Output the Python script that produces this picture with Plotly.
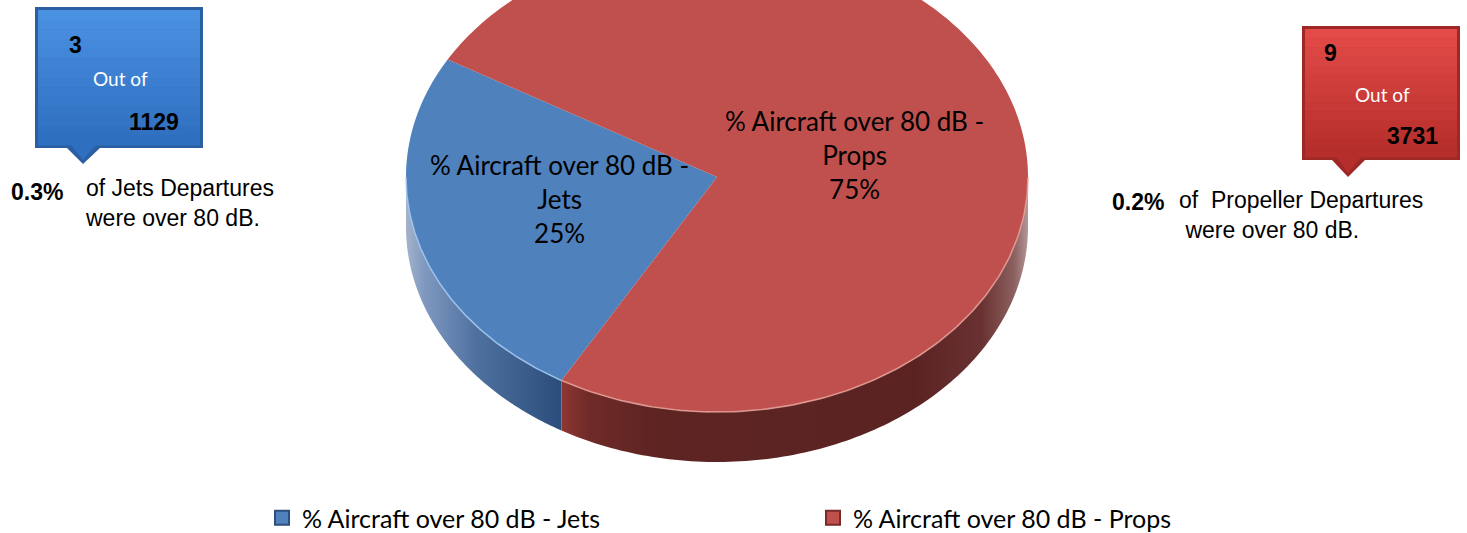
import numpy as np
import plotly.graph_objects as go

# ---------------- data ----------------
categories = ["% Aircraft over 80 dB - Jets", "% Aircraft over 80 dB - Props"]
over_80db = [3, 9]              # departures over 80 dB
departures = [1129, 3731]       # total departures
callout_names = ["Jets", " Propeller"]

# ---------------- style / geometry ----------------
W, H = 1467, 533
top_colors = ["#4F81BD", "#C0504D"]
side_scales = [
    [[0, "#a3b4cc"], [0.12, "#7f98bf"], [0.45, "#4f71a0"], [1, "#2a4d7b"]],
    [[0, "#8e3632"], [0.06, "#6f2a27"], [0.2, "#5d2422"], [0.75, "#5a2322"],
     [0.9, "#693131"], [0.97, "#8c6060"], [1, "#b39797"]],
]
edge_colors = ["#a9cbf2", "#e8a29c"]
legend_edge = ["#2c4f7e", "#7a2b28"]
CX, CY, RX, RY, DEPTH = 717, 177, 311, 235, 50
START = 150          # angle (deg, counter-clockwise) where first slice begins
LABEL_RX, LABEL_RY, LABEL_DX = 0.49, 0.36, -10
LABEL_FONT = "Lato, 'Open Sans', sans-serif"
ARIAL = "Liberation Sans, Arial, sans-serif"

total = sum(over_80db)
fracs = [v / total for v in over_80db]


def ell(a_deg, dy=0.0):
    a = np.radians(a_deg)
    return CX + RX * np.cos(a), CY - RY * np.sin(a) + dy


fig = go.Figure()

# slice angle ranges
ranges = []
a0 = START
for f in fracs:
    a1 = a0 + 360 * f
    ranges.append((a0, a1))
    a0 = a1

# side walls (front half: 180..360 deg)
for i, (s, e) in enumerate(ranges):
    for k in range(-1, 3):
        lo, hi = max(s, 180 + 360 * k), min(e, 360 + 360 * k)
        if hi <= lo:
            continue
        ang = np.linspace(lo, hi, 120)
        xt, yt = ell(ang)
        xb, yb = ell(ang[::-1], DEPTH)
        fig.add_trace(go.Scatter(
            x=np.concatenate([xt, xb]), y=np.concatenate([yt, yb]),
            mode="none", fill="toself",
            fillgradient=dict(type="horizontal", colorscale=side_scales[i]),
            hoverinfo="skip", showlegend=False))

# top faces
for i, (s, e) in enumerate(ranges):
    ang = np.linspace(s, e, 300)
    xa, ya = ell(ang)
    fig.add_trace(go.Scatter(
        x=np.concatenate([[CX], xa, [CX]]), y=np.concatenate([[CY], ya, [CY]]),
        mode="none", fill="toself", fillcolor=top_colors[i],
        hoverinfo="skip", showlegend=False))

# front edge highlights
for i, (s, e) in enumerate(ranges):
    for k in range(-1, 3):
        lo, hi = max(s, 180 + 360 * k), min(e, 360 + 360 * k)
        if hi <= lo:
            continue
        ang = np.linspace(lo, hi, 120)
        xt, yt = ell(ang)
        fig.add_trace(go.Scatter(
            x=xt, y=yt, mode="lines", line=dict(color=edge_colors[i], width=1.6),
            opacity=0.8, hoverinfo="skip", showlegend=False))

# slice labels
for i, (s, e) in enumerate(ranges):
    mid = np.radians((s + e) / 2)
    lx = CX + LABEL_DX + LABEL_RX * RX * np.cos(mid)
    ly = CY - LABEL_RY * RY * np.sin(mid)
    head, tail = categories[i].rsplit(" - ", 1)
    pct = round(100 * fracs[i])
    fig.add_annotation(
        x=lx, y=ly, xref="x", yref="y", showarrow=False,
        text=f"{head} -<br>{tail}<br>{pct}%",
        font=dict(family=LABEL_FONT, size=26, color="#000000"), align="center")

# legend entries
for i, name in enumerate(categories):
    fig.add_trace(go.Scatter(
        x=[None], y=[None], mode="markers", name=name,
        marker=dict(symbol="square", size=14, color=top_colors[i],
                    line=dict(color=legend_edge[i], width=2))))

# ---------------- callout boxes ----------------
boxes = [
    dict(x0=35, y0=7, x1=203, y1=148, px=(67, 83, 100), tip=164,
         edge="#2a5fa3", grad=("#4b91e2", "#2f6fc0")),
    dict(x0=1302, y0=26, x1=1460, y1=160, px=(1332, 1348, 1365), tip=177,
         edge="#9e2826", grad=("#e34b48", "#b52e2b")),
]


def hex2rgb(h):
    h = h.lstrip("#")
    return tuple(int(h[j:j + 2], 16) for j in (0, 2, 4))


shapes = []
for b in boxes:
    pl, pm, pr = b["px"]
    path = (f"M{b['x0']},{b['y0']} L{b['x1']},{b['y0']} L{b['x1']},{b['y1']} "
            f"L{pr},{b['y1']} L{pm},{b['tip']} L{pl},{b['y1']} L{b['x0']},{b['y1']} Z")
    shapes.append(dict(type="path", path=path, xref="x", yref="y",
                       fillcolor=b["edge"], line=dict(width=0), layer="above"))
    c0, c1 = hex2rgb(b["grad"][0]), hex2rgb(b["grad"][1])
    n = 14
    ins = 3
    top, bot = b["y0"] + ins, b["y1"] - ins
    for j in range(n):
        t = j / (n - 1)
        col = "rgb(%d,%d,%d)" % tuple(int(c0[q] + (c1[q] - c0[q]) * t) for q in range(3))
        ya = top + (bot - top) * j / n
        yb = top + (bot - top) * (j + 1) / n + 0.5
        shapes.append(dict(type="rect", xref="x", yref="y", x0=b["x0"] + ins, x1=b["x1"] - ins,
                           y0=ya, y1=yb, fillcolor=col, line=dict(width=0), layer="above"))
    # pointer inner
    shapes.append(dict(type="path", xref="x", yref="y",
                       path=f"M{pl + 4},{b['y1'] - ins} L{pr - 4},{b['y1'] - ins} L{pm},{b['tip'] - 4} Z",
                       fillcolor=b["grad"][1], line=dict(width=0), layer="above"))

# callout texts
ann = []
callout_pos = [
    dict(n=(75, 45), out=(120, 78), tot=(154, 122), pct=(37, 192), desc=(83, 203)),
    dict(n=(1330, 53), out=(1382, 94), tot=(1412, 136), pct=(1138, 202), desc=(1177, 215)),
]
for i, p in enumerate(callout_pos):
    share = 100 * over_80db[i] / departures[i]
    pad = "" if i == 0 else "&nbsp;"
    ann += [
        dict(x=p["n"][0], y=p["n"][1], text=f"<b>{over_80db[i]}</b>",
             font=dict(family=ARIAL, size=23, color="#000")),
        dict(x=p["out"][0], y=p["out"][1], text="Out of",
             font=dict(family=LABEL_FONT, size=19, color="#ffffff")),
        dict(x=p["tot"][0], y=p["tot"][1], text=f"<b>{departures[i]}</b>",
             font=dict(family=ARIAL, size=23, color="#000")),
        dict(x=p["pct"][0], y=p["pct"][1], text=f"<b>{share:.1f}%</b>",
             font=dict(family=ARIAL, size=23, color="#000")),
        dict(x=p["desc"][0], y=p["desc"][1],
             text=f"of {callout_names[i]} Departures<br>{pad}were over 80 dB.",
             xanchor="left", align="left", font=dict(family=ARIAL, size=23, color="#000")),
    ]
for a in ann:
    a.update(xref="x", yref="y", showarrow=False)
    fig.add_annotation(**a)

fig.update_layout(
    width=W, height=H,
    margin=dict(l=0, r=0, t=0, b=0, autoexpand=False),
    paper_bgcolor="#ffffff", plot_bgcolor="#ffffff",
    xaxis=dict(range=[0, W], visible=False, fixedrange=True),
    yaxis=dict(range=[H, 0], visible=False, fixedrange=True),
    shapes=shapes,
    showlegend=True,
    legend=dict(orientation="h", x=262 / W, xanchor="left", y=1 - 518 / H, yanchor="middle",
                entrywidth=506, font=dict(family=LABEL_FONT, size=25, color="#000"),
                bgcolor="rgba(0,0,0,0)", itemclick=False, itemdoubleclick=False),
)

fig.write_html("out.html", config={"displayModeBar": False},
               post_script="document.body.style.margin='0';document.body.style.overflow='hidden';")
